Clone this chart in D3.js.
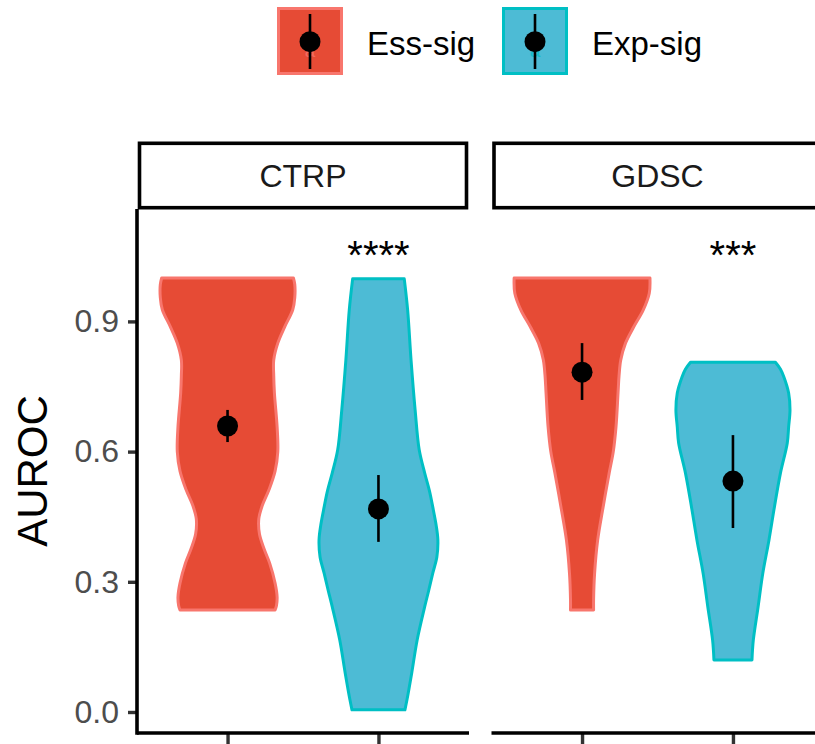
<!DOCTYPE html>
<html><head><meta charset="utf-8">
<script src="https://cdn.jsdelivr.net/npm/d3@7"></script>
<style>
html,body{margin:0;padding:0;background:#fff;}
svg{display:block;font-family:"Liberation Sans",Arial,Helvetica,sans-serif;}
</style></head>
<body><svg id="chart" width="815" height="744"></svg>
<script>
// ---- data ----
const facets = ["CTRP", "GDSC"];
const groups = ["Ess-sig", "Exp-sig"];
const fillColors = ["#E64B35", "#4DBBD5"];
const lineColors = ["#F8766D", "#00BFC4"];
const yTicks = [0.0, 0.3, 0.6, 0.9];
const yTickLabels = ["0.0", "0.3", "0.6", "0.9"];
const signifLabels = ["****", "***"];

// violin profiles: [AUROC, relative density]
const ctrpEss = [[1.0,0.97],[0.985,0.99],[0.955,0.99],[0.927,0.96],[0.887,0.84],[0.85,0.74],[0.811,0.68],[0.775,0.68],[0.735,0.69],[0.657,0.73],[0.60,0.74],[0.555,0.70],[0.512,0.61],[0.475,0.51],[0.445,0.46],[0.41,0.47],[0.375,0.54],[0.343,0.62],[0.297,0.70],[0.265,0.73],[0.245,0.72],[0.235,0.70]];
const ctrpExp = [[0.998,0.38],[0.926,0.43],[0.811,0.48],[0.696,0.54],[0.604,0.60],[0.551,0.68],[0.51,0.75],[0.472,0.80],[0.43,0.85],[0.396,0.875],[0.357,0.86],[0.320,0.80],[0.28,0.74],[0.242,0.68],[0.166,0.57],[0.090,0.49],[0.028,0.42],[0.005,0.39]];
const gdscEss = [[1.0,1.0],[0.965,0.99],[0.926,0.90],[0.887,0.76],[0.850,0.64],[0.811,0.57],[0.775,0.545],[0.735,0.53],[0.657,0.50],[0.60,0.46],[0.551,0.40],[0.472,0.31],[0.396,0.23],[0.320,0.185],[0.26,0.17],[0.235,0.17]];
const gdscExp = [[0.806,0.625],[0.790,0.70],[0.772,0.75],[0.735,0.82],[0.696,0.84],[0.657,0.82],[0.620,0.80],[0.551,0.70],[0.472,0.61],[0.396,0.53],[0.320,0.44],[0.242,0.37],[0.166,0.30],[0.120,0.28]];
const violins = [[ctrpEss, ctrpExp], [gdscEss, gdscExp]];

// point ranges per facet (Ess-sig, Exp-sig)
const meanValues = [[0.659, 0.468], [0.783, 0.532]];
const lowValues  = [[0.622, 0.392], [0.719, 0.424]];
const highValues = [[0.696, 0.546], [0.850, 0.638]];

// ---- layout ----
const svg = d3.select("#chart");
const panelTop = 209, panelBottom = 733, panelW = 332;
const panelLefts = [137, 491.5];
const y = d3.scaleLinear().domain([-0.0484, 1.159]).range([panelBottom, panelTop]);
const maxHalf = 0.45; // fraction of step

// legend
const legendX = [277, 502];
groups.forEach((g, i) => {
  const lg = svg.append("g").attr("transform", `translate(${legendX[i]},7)`);
  lg.append("rect").attr("x", 1.5).attr("y", 1.5).attr("width", 63).attr("height", 65)
    .attr("fill", fillColors[i]).attr("stroke", lineColors[i]).attr("stroke-width", 3);
  lg.append("text").attr("x", 33).attr("y", 50).attr("text-anchor", "middle")
    .attr("font-size", 19).attr("fill", lineColors[i]).attr("opacity", 0.75).text("a");
  lg.append("line").attr("x1", 33).attr("x2", 33).attr("y1", 7).attr("y2", 62)
    .attr("stroke", "#000").attr("stroke-width", 2.6);
  lg.append("circle").attr("cx", 33).attr("cy", 34.7).attr("r", 10.5).attr("fill", "#000");
  svg.append("text").attr("x", legendX[i] + 90).attr("y", 55).attr("font-size", 33)
    .attr("fill", "#000").text(g);
});

facets.forEach((f, fi) => {
  const x0 = panelLefts[fi], x1 = x0 + panelW;
  const x = d3.scalePoint().domain(groups).range([x0, x1]).padding(0.6);
  const step = x.step();
  const w = d3.scaleLinear().domain([0, 1]).range([0, maxHalf * step]);

  // strip
  svg.append("rect").attr("x", x0 + 2.5).attr("y", 143.3).attr("width", panelW - 5).attr("height", 64.4)
    .attr("fill", "#fff").attr("stroke", "#000").attr("stroke-width", 3.6);
  svg.append("text").attr("x", (x0 + x1) / 2).attr("y", 175.5).attr("dy", "0.36em")
    .attr("text-anchor", "middle").attr("font-size", 32).attr("fill", "#1A1A1A").text(f);

  // violins
  groups.forEach((g, gi) => {
    const cx = x(g);
    const area = d3.area()
      .y(d => y(d[0]))
      .x0(d => cx - w(d[1]))
      .x1(d => cx + w(d[1]))
      .curve(d3.curveCatmullRom.alpha(0.5));
    svg.append("path").datum(violins[fi][gi]).attr("d", area)
      .attr("fill", fillColors[gi]).attr("stroke", lineColors[gi])
      .attr("stroke-width", 3).attr("stroke-linejoin", "round");
    svg.append("line").attr("x1", cx).attr("x2", cx)
      .attr("y1", y(lowValues[fi][gi])).attr("y2", y(highValues[fi][gi]))
      .attr("stroke", "#000").attr("stroke-width", 2.6);
    svg.append("circle").attr("cx", cx).attr("cy", y(meanValues[fi][gi])).attr("r", 10.5).attr("fill", "#000");
  });

  // significance label
  const sx = (x(groups[0]) + x(groups[1])) / 2;
  svg.append("text").attr("x", x(groups[1])).attr("y", y(1.085)).attr("dy", "0.7em")
    .attr("text-anchor", "middle").attr("font-size", 40).attr("fill", "#000").text(signifLabels[fi]);

  // bottom axis
  const xa = svg.append("g").attr("transform", `translate(0,${panelBottom})`)
    .call(d3.axisBottom(x).tickSize(12).tickFormat(""));
  xa.select(".domain").remove();
  xa.selectAll(".tick line").attr("stroke", "#333").attr("stroke-width", 3.4);
  svg.append("line").attr("x1", x0).attr("x2", x1).attr("y1", panelBottom).attr("y2", panelBottom)
    .attr("stroke", "#000").attr("stroke-width", 3.6);
});

// y axis
const ya = svg.append("g").attr("transform", `translate(${panelLefts[0]},0)`)
  .call(d3.axisLeft(y).tickValues(yTicks).tickFormat((d, i) => yTickLabels[i]).tickSize(9).tickPadding(9));
ya.select(".domain").remove();
ya.selectAll(".tick line").attr("stroke", "#333").attr("stroke-width", 3.4);
ya.selectAll(".tick text").attr("font-size", 32).attr("fill", "#4D4D4D")
  .attr("font-family", "'Liberation Sans',Arial,sans-serif");
svg.append("line").attr("x1", panelLefts[0]).attr("x2", panelLefts[0]).attr("y1", panelTop).attr("y2", panelBottom + 1.8)
  .attr("stroke", "#000").attr("stroke-width", 3.6);

svg.append("text").attr("transform", `translate(47,${(panelTop + panelBottom) / 2}) rotate(-90)`)
  .attr("text-anchor", "middle").attr("font-size", 42).attr("fill", "#000").text("AUROC");
</script></body></html>
